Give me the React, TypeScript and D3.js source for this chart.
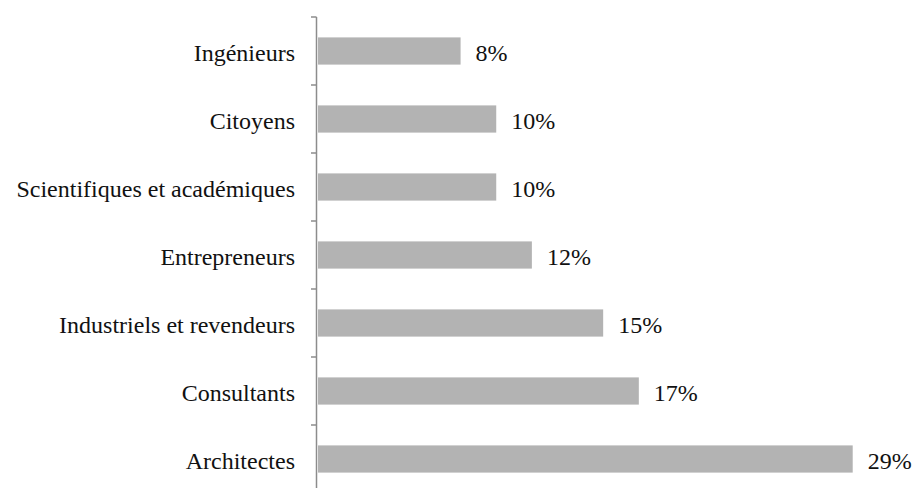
import React from "react";
import * as d3 from "d3";

const categories = [
  "Ingénieurs",
  "Citoyens",
  "Scientifiques et académiques",
  "Entrepreneurs",
  "Industriels et revendeurs",
  "Consultants",
  "Architectes",
];
const values = [8, 10, 10, 12, 16, 18, 30];
const valueLabels = ["8%", "10%", "10%", "12%", "15%", "17%", "29%"];

const W = 915;
const H = 488;

export default function App() {
  const axisX = 316.5;
  const x = d3.scaleLinear().domain([0, 30]).range([318, 852.7]);
  const y = d3
    .scaleBand<string>()
    .domain(categories)
    .range([17, 493])
    .paddingInner(0.6)
    .paddingOuter(0.3);
  const step = y.step();
  const top = y.range()[0];
  const ticks = d3.range(categories.length + 1).map((i) => top + i * step);
  const font = "Liberation Serif, Times New Roman, Times, serif";

  return (
    <svg
      width={W}
      height={H}
      style={{ position: "absolute", left: 0, top: 0, background: "#fff" }}
    >
      <line x1={axisX} x2={axisX} y1={top} y2={H + 10} stroke="#8c8c8c" strokeWidth={1.5} />
      {ticks.map((t, i) => (
        <line key={i} x1={axisX - 5.5} x2={axisX} y1={t} y2={t} stroke="#8c8c8c" strokeWidth={1.5} />
      ))}
      {categories.map((c, i) => {
        const yy = y(c)!;
        const cy = yy + y.bandwidth() / 2;
        return (
          <g key={c}>
            <rect x={x(0)} y={yy} width={x(values[i]) - x(0)} height={y.bandwidth()} fill="#b3b3b3" />
            <text
              x={295}
              y={cy}
              dy="0.4em"
              textAnchor="end"
              fontFamily={font}
              fontSize={24}
              fill="#111"
            >
              {c}
            </text>
            <text
              x={x(values[i]) + 15}
              y={cy}
              dy="0.4em"
              textAnchor="start"
              fontFamily={font}
              fontSize={24}
              fill="#111"
            >
              {valueLabels[i]}
            </text>
          </g>
        );
      })}
    </svg>
  );
}
